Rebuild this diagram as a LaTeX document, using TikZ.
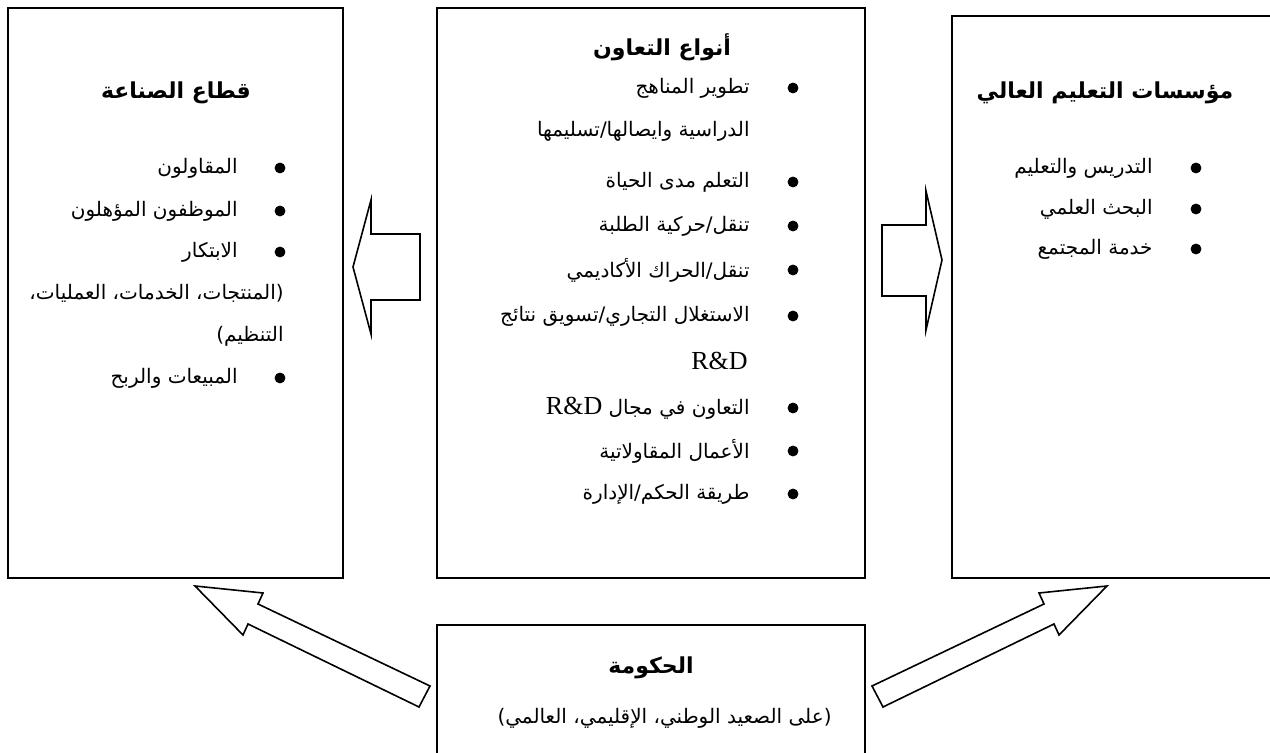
\documentclass[tikz,border=0pt]{standalone}
\usepackage{fontspec}
\newfontfamily\arabicfont[Script=Arabic]{DejaVu Sans}
\newfontfamily\latinfont{Liberation Serif}
\TeXXeTstate=1
\newcommand{\rl}[1]{\beginR #1\endR}
\newcommand{\rnd}{\beginL{\latinfont\fontsize{13}{15}\selectfont R\&D}\endL}

\begin{document}
\begin{tikzpicture}[x=0.5pt,y=-0.5pt,
    box/.style={line width=1pt},
    blockarrow/.style={line width=0.8pt,line join=miter},
    item/.style={anchor=east,inner sep=0pt,font=\arabicfont\fontsize{10}{12}\selectfont},
    head/.style={inner sep=0pt,font=\arabicfont\bfseries\fontsize{11}{13}\selectfont}]
    \useasboundingbox (0,0) rectangle (1270,753);
    \clip (0,0) rectangle (1270,753);

    % the four boxes
    \draw[box](8,8) rectangle (343,578);
    \draw[box](437,8) rectangle (865,578);
    \draw[box](952,16) rectangle (1290,578);
    \draw[box](437,625) rectangle (865,770);

    % block arrows
    \draw[blockarrow](420,234)--(371,234)--(371,200)--(353,267)--(371,334)--(371,300)--(420,300)--cycle;
    \draw[blockarrow](882,225)--(926,225)--(926,191)--(942,260)--(926,330)--(926,296)--(882,296)--cycle;
    \draw[blockarrow](430,686)--(258,604)--(263,593)--(195,586)--(243,635)--(248,624)--(419,707)--cycle;
    \draw[blockarrow](872,686)--(1044,604)--(1039,593)--(1107,586)--(1059,635)--(1054,624)--(883,707)--cycle;

    % industry
    \node[head](ind) at (176,93){\rl{قطاع الصناعة}};
    \node[item](ind1) at (238,168){\rl{المقاولون}};
    \node[item](ind2) at (238,211){\rl{الموظفون المؤهلون}};
    \node[item](ind3) at (238,252){\rl{الابتكار}};
    \node[item](ind3a) at (284,293){\rl{(المنتجات، الخدمات، العمليات،}};
    \node[item](ind3b) at (284,336){\rl{التنظيم)}};
    \node[item](ind4) at (238,378){\rl{المبيعات والربح}};
    \foreach \y in {168,211,252,378}
        \filldraw[black](280,\y)circle(2.5pt);

    % types of cooperation
    \node[head](coop) at (662,47){\rl{أنواع التعاون}};
    \node[item](coop1) at (750,88){\rl{تطوير المناهج}};
    \node[item](coop1a) at (750,131){\rl{الدراسية وايصالها/تسليمها}};
    \node[item](coop2) at (750,182){\rl{التعلم مدى الحياة}};
    \node[item](coop3) at (750,226){\rl{تنقل/حركية الطلبة}};
    \node[item](coop4) at (750,270){\rl{تنقل/الحراك الأكاديمي}};
    \node[item](coop5) at (750,316){\rl{الاستغلال التجاري/تسويق نتائج}};
    \node[item](coop5a) at (748,361){\rnd};
    \node[item](coop6) at (750,408){\rl{التعاون في مجال \rnd}};
    \node[item](coop7) at (750,451){\rl{الأعمال المقاولاتية}};
    \node[item](coop8) at (750,494){\rl{طريقة الحكم/الإدارة}};
    \foreach \y in {88,182,226,270,316,408,451,494}
        \filldraw[black](793,\y)circle(2.5pt);

    % higher education
    \node[head](univ) at (1105,93){\rl{مؤسسات التعليم العالي}};
    \node[item](univ1) at (1153,168){\rl{التدريس والتعليم}};
    \node[item](univ2) at (1153,209){\rl{البحث العلمي}};
    \node[item](univ3) at (1153,249){\rl{خدمة المجتمع}};
    \foreach \y in {168,209,249}
        \filldraw[black](1196,\y)circle(2.5pt);

    % government
    \node[head](gov) at (651,668){\rl{الحكومة}};
    \node[item](gov1) at (832,718){\rl{(على الصعيد الوطني، الإقليمي، العالمي)}};
\end{tikzpicture}
\end{document}
